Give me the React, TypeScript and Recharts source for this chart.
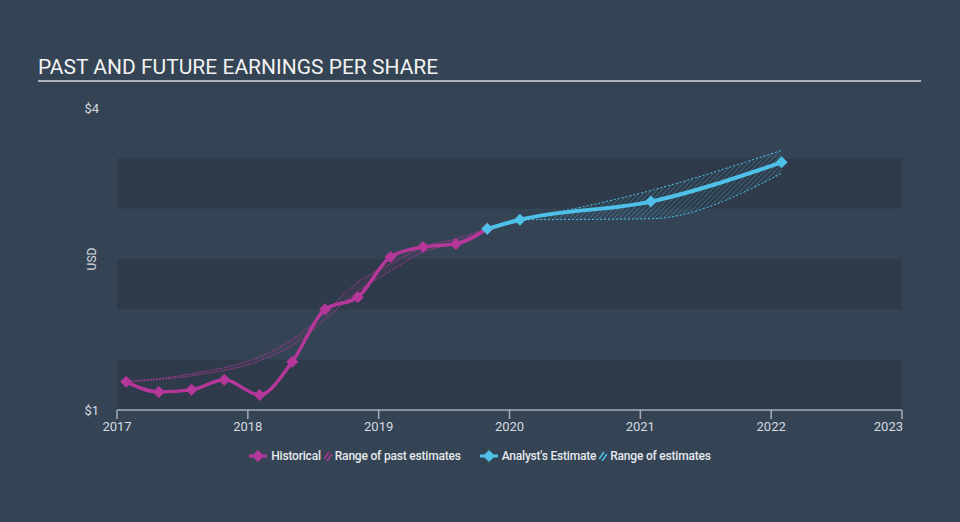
import React from "react";
import {
  ComposedChart,
  Line,
  Area,
  XAxis,
  YAxis,
  ReferenceArea,
} from "recharts";

const PINK = "#b5379a";
const BLUE = "#4fc1e9";
const BG = "#344454";
const BAND = "#2f3b4a";

// quarterly reported EPS
const histDates = [2017.07, 2017.32, 2017.57, 2017.82, 2018.09, 2018.34, 2018.59, 2018.84, 2019.09, 2019.34, 2019.59, 2019.83];
const histEps = [1.28, 1.18, 1.2, 1.3, 1.15, 1.48, 2.0, 2.12, 2.52, 2.62, 2.65, 2.8];

// range of past estimates (thin band)
const pastDates = [2017.07, 2017.57, 2018.09, 2018.34, 2018.59, 2018.84, 2019.09, 2019.34, 2019.59, 2019.83];
const pastLow = [1.28, 1.34, 1.49, 1.64, 1.9, 2.18, 2.38, 2.57, 2.66, 2.8];
const pastHigh = [1.28, 1.36, 1.53, 1.7, 1.97, 2.27, 2.45, 2.62, 2.7, 2.8];

// analyst estimates
const estDates = [2019.83, 2020.08, 2021.08, 2022.08];
const estEps = [2.8, 2.89, 3.07, 3.46];

const rangeDates = [2020.08, 2021.08, 2022.08];
const rangeLow = [2.89, 2.9, 3.35];
const rangeHigh = [2.89, 3.18, 3.58];

const yearTicks = [2017, 2018, 2019, 2020, 2021, 2022, 2023];
const usdTicks = [1, 4];
const bands = [
  [1, 1.5],
  [2, 2.5],
  [3, 3.5],
];

const histData = histDates.map((d, i) => ({ date: d, eps: histEps[i] }));
const pastData = pastDates.map((d, i) => ({ date: d, range: [pastLow[i], pastHigh[i]] }));
const estData = estDates.map((d, i) => ({ date: d, eps: estEps[i] }));
const rangeData = rangeDates.map((d, i) => ({ date: d, range: [rangeLow[i], rangeHigh[i]] }));

const Diamond = (color: string) => (props: any) => {
  const { cx, cy, index } = props;
  if (cx == null || cy == null) return <g key={index} />;
  return (
    <path
      key={index}
      d={`M${cx},${cy - 6} L${cx + 6},${cy} L${cx},${cy + 6} L${cx - 6},${cy} Z`}
      fill={color}
    />
  );
};

const YearTick = (props: any) => {
  const { x, y, payload } = props;
  const last = payload.value === 2023;
  return (
    <text
      x={last ? x + 1 : x}
      y={y + 10}
      textAnchor={last ? "end" : "middle"}
      fill="#d6dae0"
      fontSize={13}
      fontFamily="Roboto"
    >
      {payload.value}
    </text>
  );
};

const UsdLabel = (props: any) => {
  const { viewBox } = props;
  const x = viewBox.x + 35;
  const y = viewBox.y + viewBox.height / 2;
  return (
    <text
      x={x}
      y={y}
      transform={`rotate(-90 ${x} ${y})`}
      textAnchor="middle"
      dominantBaseline="central"
      fill="#d6dae0"
      fontSize={12}
      fontFamily="Roboto"
    >
      USD
    </text>
  );
};

const LegendIcon = ({ color }: { color: string }) => (
  <svg width={18} height={12} style={{ marginRight: 4 }}>
    <line x1={0} y1={6} x2={18} y2={6} stroke={color} strokeWidth={3} />
    <path d="M9,0 L15,6 L9,12 L3,6 Z" fill={color} />
  </svg>
);

const Hatch = ({ color }: { color: string }) => (
  <svg width={8} height={10} style={{ margin: "0 3px" }}>
    <line x1={0} y1={8} x2={5} y2={1} stroke={color} strokeWidth={1.5} />
    <line x1={3} y1={10} x2={8} y2={3} stroke={color} strokeWidth={1.5} />
  </svg>
);

export default function App() {
  return (
    <div
      style={{
        position: "absolute",
        left: 0,
        top: 0,
        width: 960,
        height: 522,
        background: BG,
        fontFamily: "Roboto",
      }}
    >
      <div
        style={{
          position: "absolute",
          left: 38,
          top: 55,
          fontSize: 21,
          color: "#f2f2f2",
          lineHeight: "24px",
        }}
      >
        PAST AND FUTURE EARNINGS PER SHARE
      </div>
      <div
        style={{
          position: "absolute",
          left: 38,
          top: 80,
          width: 883,
          height: 2,
          background: "#aab2bc",
        }}
      />
      <ComposedChart
        width={960}
        height={522}
        margin={{ top: 108, right: 58, bottom: 82, left: 57 }}
        style={{ position: "absolute", left: 0, top: 0 }}
      >
        <defs>
          <pattern id="hatchBlue" width={3.5} height={3.5} patternUnits="userSpaceOnUse" patternTransform="rotate(45)">
            <line x1={0} y1={0} x2={0} y2={3.5} stroke={BLUE} strokeWidth={1.3} strokeOpacity={0.75} />
          </pattern>
          <pattern id="hatchPink" width={3} height={3} patternUnits="userSpaceOnUse" patternTransform="rotate(45)">
            <line x1={0} y1={0} x2={0} y2={3} stroke={PINK} strokeWidth={1} strokeOpacity={0.8} />
          </pattern>
        </defs>
        {bands.map(([a, b]) => (
          <ReferenceArea key={a} y1={a} y2={b} fill={BAND} fillOpacity={1} stroke="none" ifOverflow="hidden" />
        ))}
        <XAxis
          dataKey="date"
          type="number"
          domain={[2017, 2023]}
          ticks={yearTicks}
          allowDuplicatedCategory={false}
          axisLine={{ stroke: "#a3adb9", strokeWidth: 1.5 }}
          tickLine={{ stroke: "#a3adb9", strokeWidth: 1.5 }}
          tickSize={9}
          tick={<YearTick />}
          interval={0}
        />
        <YAxis
          type="number"
          domain={[1, 4]}
          ticks={usdTicks}
          width={60}
          axisLine={false}
          tickLine={false}
          tickFormatter={(v: number) => `$${v}`}
          tick={{ fill: "#d6dae0", fontSize: 13, fontFamily: "Roboto" }}
          tickMargin={12}
          label={<UsdLabel />}
        />
        <Area
          data={rangeData}
          dataKey="range"
          type="monotone"
          fill="url(#hatchBlue)"
          stroke={BLUE}
          strokeWidth={1}
          strokeDasharray="2 2"
          isAnimationActive={false}
          activeDot={false}
        />
        <Area
          data={pastData}
          dataKey="range"
          type="monotone"
          fill="url(#hatchPink)"
          stroke={PINK}
          strokeWidth={0.8}
          strokeDasharray="2 1"
          isAnimationActive={false}
          activeDot={false}
        />
        <Line
          data={histData}
          dataKey="eps"
          type="monotone"
          stroke={PINK}
          strokeWidth={3.5}
          dot={Diamond(PINK)}
          activeDot={false}
          isAnimationActive={false}
        />
        <Line
          data={estData}
          dataKey="eps"
          type="monotone"
          stroke={BLUE}
          strokeWidth={4}
          dot={Diamond(BLUE)}
          activeDot={false}
          isAnimationActive={false}
        />
      </ComposedChart>
      <div
        style={{
          position: "absolute",
          left: 0,
          top: 449,
          width: 960,
          display: "flex",
          justifyContent: "center",
          alignItems: "center",
          fontSize: 12,
          fontWeight: 500,
          color: "#e6e9ed",
          letterSpacing: -0.2,
        }}
      >
        <LegendIcon color={PINK} />
        <span>Historical</span>
        <Hatch color={PINK} />
        <span>Range of past estimates</span>
        <span style={{ width: 19 }} />
        <LegendIcon color={BLUE} />
        <span>Analyst's Estimate</span>
        <Hatch color={BLUE} />
        <span>Range of estimates</span>
      </div>
    </div>
  );
}
